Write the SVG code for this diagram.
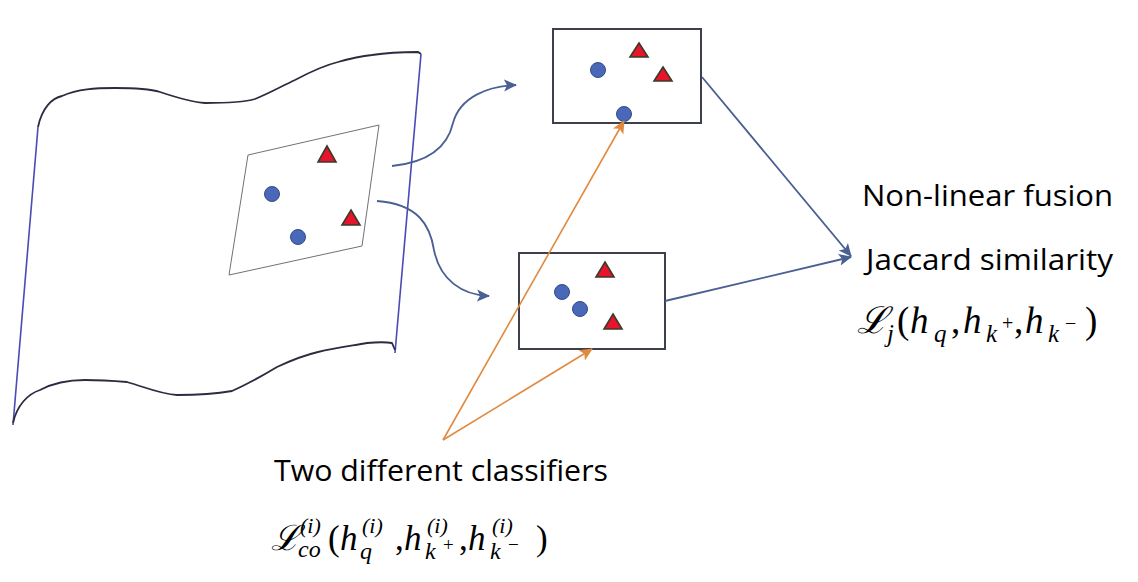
<svg xmlns="http://www.w3.org/2000/svg" width="1138" height="582" viewBox="0 0 1138 582">
<style>
.edge{fill:none;stroke:#4a4ab8;stroke-width:1.6}
.curve{fill:none;stroke:#2c2c40;stroke-width:1.8}
.para{fill:none;stroke:#707078;stroke-width:1}
.box{fill:#fff;stroke:#3c3f4c;stroke-width:2}
.dot{fill:#4a68b8;stroke:#2f4a88;stroke-width:1}
.tri{fill:#e8142c;stroke:#3a3a28;stroke-width:1.6;stroke-linejoin:miter}
.blue{fill:none;stroke:#4a5f94;stroke-width:1.8}
.orange{fill:none;stroke:#e08a40;stroke-width:1.6}
.lbl{font-family:"Open Sans","Liberation Sans",sans-serif;font-size:30px;fill:#000}
.math{font-family:"Liberation Serif","DejaVu Serif",serif;font-style:italic;fill:#000}
</style>
<defs>
<marker id="ab" markerUnits="userSpaceOnUse" markerWidth="14" markerHeight="14" viewBox="0 0 14 14" refX="12" refY="7" orient="auto">
<path d="M0,1 L13,7 L0,13 L3,7 Z" fill="#4a5f94"/>
</marker>
<marker id="ao" markerUnits="userSpaceOnUse" markerWidth="14" markerHeight="14" viewBox="0 0 14 14" refX="12" refY="7" orient="auto">
<path d="M0,1 L13,7 L0,13 L3,7 Z" fill="#e08a40"/>
</marker>
</defs>
<rect width="1138" height="582" fill="#fff"/>

<g id="flag">
<path class="curve" d="M38,127 C42,108 52,98 62,96 C78,89 95,88 115,88 C135,88 150,89 160,92 C175,97 190,102 205,103 C225,103 245,102 255,99 C270,93 282,86 295,80 C310,72 322,66 338,62 C352,58 362,56 372,55 C385,53 400,52 418,52 L421,54"/>
<path class="edge" d="M38,127 L13,425"/>
<path class="edge" d="M421,54 L395,353"/>
<path class="curve" d="M13,423 C17,405 28,394 40,390 C55,382 70,380 85,380 C100,380 115,381 127,382 C145,387 160,394 177,395 C195,395 215,394 232,391 C248,384 262,376 277,367 C292,360 305,355 318,352 C335,348 350,346 367,343 C378,342 386,342 392,343 L395,350"/>
<polygon class="para" points="248,155 379,125 362,246 229,275"/>
<circle class="dot" cx="272" cy="194" r="7.5"/>
<circle class="dot" cx="298" cy="237" r="7.5"/>
<polygon class="tri" points="327,146 336,162 318,162"/>
<polygon class="tri" points="351,210 360,225 342,225"/>
</g>

<g id="view1">
<rect class="box" x="553" y="29" width="148" height="94"/>
<circle class="dot" cx="598" cy="70" r="7.5"/>
<circle class="dot" cx="624" cy="114" r="7.5"/>
<polygon class="tri" points="639,43 648,57 630,57"/>
<polygon class="tri" points="663,67 672,81 654,81"/>
</g>

<g id="view2">
<rect class="box" x="519" y="253" width="146" height="96"/>
<circle class="dot" cx="562" cy="292" r="7.5"/>
<circle class="dot" cx="580" cy="309" r="7.5"/>
<polygon class="tri" points="605,262 614,277 596,277"/>
<polygon class="tri" points="613,314 622,329 604,329"/>
</g>

<g id="connectors">
<path class="blue" d="M392,166 C432,162 448,145 453,123 C460,97 488,86 516,85" marker-end="url(#ab)"/>
<path class="blue" d="M377,201 C418,204 430,225 434,250 C440,280 462,295 489,296" marker-end="url(#ab)"/>
<path class="blue" d="M702,77 L851,256" marker-end="url(#ab)"/>
<path class="blue" d="M665,301 L851,257" marker-end="url(#ab)"/>
<path class="orange" d="M443,440 L624,121" marker-end="url(#ao)"/>
<path class="orange" d="M443,440 L592,349" marker-end="url(#ao)"/>
</g>

<g id="fusion-label">
<text class="lbl" x="862" y="206" textLength="251" lengthAdjust="spacingAndGlyphs">Non-linear fusion</text>
<text class="lbl" x="866" y="270" textLength="247" lengthAdjust="spacingAndGlyphs">Jaccard similarity</text>
<text class="math" font-size="37"><tspan x="857" y="333">ℒ</tspan><tspan x="887" y="342" font-size="25">j</tspan><tspan x="897" y="333" font-style="normal">(</tspan><tspan x="910" y="333">h</tspan><tspan x="934" y="342" font-size="25">q</tspan><tspan x="951" y="333" font-style="normal">,</tspan><tspan x="963" y="333">h</tspan><tspan x="986" y="342" font-size="25">k</tspan><tspan x="1002" y="330" font-size="20" font-style="normal">+</tspan><tspan x="1014" y="333" font-style="normal">,</tspan><tspan x="1025" y="333">h</tspan><tspan x="1048" y="342" font-size="25">k</tspan><tspan x="1065" y="330" font-size="20" font-style="normal">−</tspan><tspan x="1085" y="333" font-style="normal">)</tspan></text>
</g>

<g id="classifier-label">
<text class="lbl" x="274" y="481" textLength="334" lengthAdjust="spacingAndGlyphs">Two different classifiers</text>
<text class="math" font-size="35"><tspan x="271" y="550">ℒ</tspan><tspan x="300" y="533" font-size="22">(i)</tspan><tspan x="298" y="557" font-size="24">co</tspan><tspan x="328" y="550" font-style="normal">(</tspan><tspan x="340" y="550">h</tspan><tspan x="362" y="533" font-size="22">(i)</tspan><tspan x="360" y="559" font-size="24">q</tspan><tspan x="395" y="550" font-style="normal">,</tspan><tspan x="404" y="550">h</tspan><tspan x="427" y="533" font-size="22">(i)</tspan><tspan x="425" y="559" font-size="24">k</tspan><tspan x="443" y="551" font-size="19" font-style="normal">+</tspan><tspan x="459" y="550" font-style="normal">,</tspan><tspan x="468" y="550">h</tspan><tspan x="492" y="533" font-size="22">(i)</tspan><tspan x="490" y="559" font-size="24">k</tspan><tspan x="508" y="551" font-size="19" font-style="normal">−</tspan><tspan x="536" y="550" font-style="normal">)</tspan></text>
</g>
</svg>
